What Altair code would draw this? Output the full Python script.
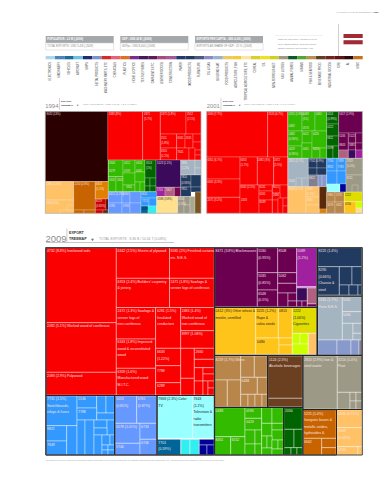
import altair as alt
import pandas as pd

# ---------- palette ----------
RED="#fb0000"; MAR="#6b0050"; DKP="#3c0a5a"; MAG="#a020a0"; PNK="#b06080"
GRN="#33bb00"; DGR="#006400"; BLU="#3399ff"; PER="#6699ff"; CYP="#99ffff"; CYN="#33eeee"
TEA="#006699"; NVB="#000099"; NAV="#203a60"; GRB="#a4b4c0"; LAV="#8899cc"; GRY="#808090"
POR="#ffc266"; DOR="#c86400"; ORG="#e08000"; YOR="#ffc41a"; YEL="#e0dc00"; CHA="#ccff00"
PYE="#ffe08c"; KHA="#9c9a86"; BRN="#b8864a"; DBR="#6a4020"; SBR="#5a2a0a"; BLK="#2a0000"; DRD="#cc0000"
FONT="Liberation Sans"

# ---------- header ----------
strip_colors=["#a8d8ea","#4a86b8","#1e6a9e","#6fc3d8","#1c2a78","#7a93c8","#d42a2a","#e8607a","#e07020",
 "#7b2d8b","#431a5e","#5e1a5a","#a84a7a","#a05a98","#1f3a6e","#203a60","#4a5a80","#8a8ac8","#9ab0d0",
 "#f0c860","#f5c840","#fbe5a0","#d8d030","#f0e020","#d0d020","#a09a80","#0a5a30","#50a830","#b89050",
 "#604020","#7a2020","#601515","#2a0a0a","#c87020"]
strip_labels=["ELECTRONICS","MACHINERY","VEHICLES","AIRCRAFT","SHIPS","METAL PRODUCTS","MACHINERY PARTS, ETC","CHEMICALS","PLASTICS",
 "HOME & OFFICE","TEXTILE FIBRES","GARMENTS ETC.","LEATHER GOODS","CONSTRUCTION","PAPER","WOOD PRODUCTS","FURNITURE","OIL & GAS",
 "BUILDING MAT.","FOOD PRODUCTS","AGRICULTURE, FISH","TROPICAL AGRICULTURE, ETC","CEREAL","OIL","NON-FERROUS MET.","MILK & EGGS","ANIMAL FIBRES",
 "MINING","FISH & SEAFOOD","BEVERAGE PROD.","INDUSTRIAL GOODS","ORE","AL","MISC"]
stats=[(45.7,113.7,"POPULATION : 2.3 M | (2009)","TOTAL EXPORTS : USD 5.4 B | (2009)"),
       (120.3,188.3,"GDP : USD 26 B | (2009)","GDPpc : USD 8,000 | (2009)"),
       (195,263,"EXPORTS PER CAPITA : USD 4,000 | (2009)","EXPORTS AS SHARE OF GDP : 25 % | (2009)")]
note_lines=["Data are from 2009. Member of euro","area / Baltic States, Regional Group:","Eastern Europe and Central Asia"]

# ---------- treemap cells: (left, top, right, bottom, colour) ----------
tm1994=[(45.3,111.5,108,181.5,BLK),
 (45.3,181.5,73.7,200,POR),(45.3,200,73.7,213.3,POR),(60,210,73.7,213.3,POR),(67,205,73.7,210,POR),
 (73.7,181.5,95.3,210,DOR),(73.7,210,84,213.3,DOR),(84,210,95.3,213.3,DOR),
 (95.3,181.5,108.3,199,ORG),(95.3,199,106,210,DRD),(106,199,108.3,210,"#4a0000"),(95.3,210,103,213.3,DRD),(103,210,108.3,213.3,SBR),
 (107.7,111.5,142.7,160,RED),(142.7,111.5,160.3,160,RED),(160.3,111.5,186,134,RED),(186,111.5,201,134,RED),
 (160.3,134,176.7,148,RED),(160.3,148,176.7,160,RED),(176.7,134,185,148,RED),(185,134,193,148,RED),(193,134,201,142,RED),(193,142,201,150,RED),
 (176.7,148,189,160,RED),(189,148,195,160,RED),(195,150,201,155,RED),(195,155,201,160,RED),
 (108.3,160,123,176.7,GRN),(108.3,176.7,116,191.7,GRN),(116,176.7,123,191.7,GRN),(123,160,135,173,GRN),(123,173,135,185,GRN),(123,185,135,191.7,GRN),
 (135,160,145,172,GRN),(135,172,145,182,GRN),(135,182,140,191.7,GRN),(140,182,145,191.7,GRN),
 (145,160,156,178,DGR),(145,178,150,186,DGR),(150,178,156,186,DGR),(145,186,150,191.7,DGR),(150,186,156,191.7,DGR),
 (156,160,180.7,187.3,DKP),(156,187.3,165,196.5,MAG),(165,187.3,174.3,196.5,PNK),(174.3,187.3,180.7,196.5,"#7a0a50"),
 (180.7,160,195,175,GRB),(195,160,201,168,GRB),(195,168,201,175,GRB),(180.7,175,191,187,NAV),(191,175,201,187,NAV),(180.7,187,191,196.5,NAV),(191,187,201,192,NAV),
 (108.3,191.7,122,203,PER),(122,191.7,130,203,PER),(108.3,203,122,213.3,PER),(122,203,130,213.3,PER),(130,191.7,141,203,PER),(130,203,141,213.3,PER),
 (141,191.7,156.7,198,BLU),(141,198,149,206,BLU),(149,198,156.7,206,BLU),(141,206,148,213.3,TEA),(148,206,156.7,213.3,CYN),
 (156.7,196.5,177.7,213.3,PYE),(177.7,196.5,184,213.3,KHA),(184,196.5,190,205,KHA),(184,205,190,213.3,KHA),(190,196.5,195,213.3,"#a8a890"),(195,192,201,213.3,"#7a5520")]

tm2001=[(206.7,111.5,267.7,157,RED),(267.7,111.5,287.7,157,RED),(206.7,157,240,179,RED),(206.7,179,240,197.3,RED),(206.7,197.3,240,213.3,RED),
 (240,157,257.3,185,RED),(257.3,157,273.7,185,RED),(273.7,157,287.7,185,RED),
 (240,185,259,213.3,RED),(259,185,272.3,191,RED),(259,191,272.3,200,RED),(259,200,272.3,213.3,RED),(272.3,185,280,193,RED),(280,185,287.7,198,RED),(272.3,193,280,200,RED),
 (272.3,200,278,213.3,RED),(278,198,283,213.3,RED),(283,198,287.7,206,RED),(283,206,287.7,213.3,RED),
 (288,111.5,302,131,GRN),(302,111.5,315,131,GRN),(315,111.5,326.7,131,GRN),(302,131,315,143,GRN),(288,131,302,146,GRN),(288,146,302,158.3,GRN),(302,143,312,158.3,GRN),(312,131,326.7,148,GRN),(312,148,320,158.3,GRN),(320,148,326.7,158.3,GRN),
 (326.7,111.5,338.7,124,DGR),(326.7,124,338.7,136,DGR),(326.7,136,338.7,146,DGR),(326.7,146,333,158.3,DGR),(333,146,338.7,158.3,DGR),
 (338.7,111.5,362.3,133,MAR),(338.7,133,348.3,150,MAR),(348.3,133,355.7,143,MAR),(355.7,133,362.3,143,MAR),(348.3,143,355.7,150,MAR),(355.7,143,362.3,150,MAR),
 (338.7,150,348.3,158.3,PNK),(348.3,150,355.7,158.3,DKP),(355.7,150,362.3,158.3,MAG),
 (288,158.3,308.3,186.7,GRB),(296,178,302,186.7,GRB),(302,178,308.3,186.7,GRB),
 (308.3,158.3,317,168,NAV),(317,158.3,326.7,168,NAV),(308.3,168,317,175,NAV),(317,168,326.7,175,NAV),(308.3,175,318,186.7,GRY),(318,175,322,186.7,LAV),(322,175,326.7,186.7,LAV),
 (326.7,158.3,337,171,BLU),(337,158.3,346,171,BLU),(326.7,171,337,184,BLU),(337,171,346,184,BLU),(326.7,184,340,192,CYP),(340,184,346,192,NVB),
 (346,158.3,362.3,175,KHA),(346,175,362.3,192,KHA),(352,185,358,192,KHA),
 (288,186.7,306,213.3,POR),(306,186.7,319.3,197,POR),(306,197,319.3,205,POR),(306,205,319.3,213.3,POR),
 (319.3,186.7,326.7,209,SBR),(319.3,209,326.7,213.3,ORG),
 (326.7,192,335,202,BRN),(335,192,344.3,202,BRN),(326.7,202,335,213.3,BRN),(335,202,344.3,213.3,BRN),
 (344.3,192,362.3,201.7,YEL),(344.3,201.7,356,213.3,YOR),(356,201.7,362.3,208,CHA),(356,208,362.3,213.3,PYE)]

tm2009=[(46,247.7,116.3,322.7,RED),(46,322.7,116.3,372.3,RED),(46,372.3,116.3,395,RED),
 (116.3,247.7,169.5,278.3,RED),(116.3,278.3,169.5,307.5,RED),(116.3,307.5,155.6,339,RED),(116.3,339,155.6,368.3,RED),(116.3,368.3,155.6,395,RED),
 (169.5,247.7,214,278.3,RED),(169.5,278.3,214,307.5,RED),(155.6,307.5,180.7,348.3,RED),(155.6,348.3,180.7,365.7,RED),(155.6,365.7,180.7,382.7,RED),(155.6,382.7,180.7,395,RED),
 (180.7,307.5,214,330.7,RED),(180.7,330.7,214,348.3,RED),(180.7,348.3,194.3,378.3,RED),(194.3,348.3,214,359.3,RED),(194.3,359.3,214,367.7,RED),
 (180.7,378.3,194.3,395,RED),(194.3,367.7,203,381,RED),(203,367.7,214,374,RED),(203,374,214,381,RED),(194.3,381,203,395,RED),(203,381,208,395,RED),(208,381,214,388,RED),(208,388,214,395,RED),
 (214.7,247.7,257.3,306.7,MAR),(257.3,247.7,277.7,272.7,MAR),(277.7,247.7,296.7,272.7,MAR),(257.3,272.7,277.7,290,MAR),(257.3,290,277.7,306.7,MAR),
 (277.7,272.7,296.7,283.3,MAR),(277.7,283.3,296.7,293,MAR),(277.7,293,288,306.7,MAR),(288,293,296.7,301,MAR),(288,301,296.7,306.7,MAR),
 (296.7,247.7,316.7,286.7,MAG),(296.7,286.7,316.7,288,"#c060c0"),(296.7,288,307.3,301,DKP),(296.7,301,302,306.7,MAR),(302,301,307.3,306.7,MAR),(307.3,288,316.7,304,PNK),(307.3,304,316.7,306.7,MAR),
 (317.7,247.7,361.7,266.7,NAV),(317.7,266.7,339.3,295,NAV),(339.3,266.7,352,285,NAV),(352,266.7,361.7,285,NAV),(339.3,285,349,295,NAV),(349,285,358,295,NAV),(358,285,361.7,295,NAV),
 (317.7,296.7,342.3,340,GRB),(342.3,296.7,361.7,311.7,GRB),(342.3,311.7,361.7,323.3,GRB),(342.3,323.3,353,340,GRB),(353,323.3,361.7,333.3,GRB),(353,333.3,361.7,340,GRB),
 (317.7,340,337,355,LAV),(337,340,351,355,LAV),(351,340,359,355,LAV),(359,340,361.7,355,GRY),
 (214.7,307.7,255.7,354.3,YOR),(255.7,307.7,278.3,338,YOR),(278.3,307.7,292.3,338,YOR),(255.7,338,279,354.3,YOR),(279,338,292.3,345,YOR),(279,345,292.3,354.3,YOR),
 (292.3,307.7,316.7,333.3,YEL),(292.3,333.3,300,344,CHA),(300,333.3,308.3,344,CHA),(292.3,344,308.3,354.3,CHA),(308.3,333.3,316.7,354.3,POR),
 (214.7,356,240.7,380,BRN),(214.7,380,227.3,406.7,BRN),(227.3,380,240.7,406.7,BRN),(240.7,356,254.3,377.3,BRN),(254.3,356,267.3,377.3,BRN),(240.7,377.3,257.3,394.3,BRN),(257.3,377.3,267.3,394.3,BRN),
 (240.7,394.3,248,406.7,BRN),(248,394.3,255,406.7,BRN),(255,394.3,262,406.7,BRN),(262,394.3,267.3,406.7,BRN),
 (268,356,302.3,398.3,DBR),(268,398.3,302.3,406.7,DBR),
 (303.3,356,337.3,409,KHA),(337.3,356,362,392.3,KHA),(337.3,392.3,350,409,KHA),(350,392.3,356,401,KHA),(356,392.3,362,401,KHA),(350,401,356,409,KHA),(356,401,362,409,KHA),
 (214.7,407.7,245,436.7,GRN),(214.7,436.7,230.7,455,GRN),(230.7,436.7,245,455,GRN),(245,407.7,261.7,418.3,GRN),(245,418.3,261.7,430,GRN),(261.7,407.7,272,423.3,GRN),(272,407.7,283.3,423.3,GRN),
 (245,430,255,444,GRN),(245,444,255,455,GRN),(255,430,261.7,444,GRN),(255,444,261.7,455,GRN),(261.7,423.3,272,436,GRN),(272,423.3,283.3,430,GRN),(272,430,283.3,440,GRN),(261.7,436,267,448,GRN),(267,436,272,448,GRN),
 (261.7,448,272,455,GRN),(272,440,278,449,GRN),(278,440,283.3,449,GRN),(272,449,283.3,455,GRN),
 (284,407.7,302.3,429.3,DGR),(284,429.3,294,447.7,DGR),(294,429.3,302.3,447.7,DGR),(284,447.7,291,455,DGR),(291,447.7,297,455,DGR),(297,447.7,302.3,455,DGR),
 (303.3,410,336,438.3,DOR),(303.3,438.3,321.7,455,DOR),(321.7,438.3,336,447.7,DOR),(321.7,447.7,336,455,DOR),
 (337,410,362,427.7,POR),(337,427.7,362,446.7,POR),(337,446.7,358,455,POR),(358,446.7,362,455,POR),
 (46,396,77,425.7,BLU),(46,425.7,66.7,441,BLU),(46,441,66.7,455,BLU),(66.7,425.7,77,455,BLU),(77,396,96.7,408,BLU),(96.7,396,106,413,BLU),(106,396,114.3,413,BLU),(77,408,96.7,420,BLU),(96.7,413,114.3,420,BLU),
 (77,420,85,455,BLU),(85,420,94,455,BLU),(94,420,107,428,BLU),(107,420,114.3,435,BLU),(94,428,107,435,BLU),(94,435,102,455,BLU),(102,435,110,445,BLU),(110,435,114.3,445,BLU),(102,445,108,450,BLU),(108,445,114.3,450,BLU),(102,450,108,455,BLU),(108,450,114.3,455,BLU),
 (115,396,136.7,423.3,PER),(136.7,396,156.7,423.3,PER),(115,423.3,140,443.3,PER),(140,423.3,156.7,439.3,PER),(115,443.3,140,455,PER),(140,439.3,156.7,455,PER),
 (157.3,396,192.7,438.3,CYP),(192.7,396,214,438.3,CYP),(157.3,439.3,180.7,455,TEA),(181,439.3,190,455,CYN),(190,439.3,199.3,455,CYN),(199.3,439.3,214,445,NVB),(199.3,445,207,455,NVB),(207,445,214,455,NVB)]

# block outlines of the 2009 treemap: (left, top, right, bottom)
blocks2009=[(46,247.7,214.3,395.5),(214.7,247.7,316.9,307.2),(214.7,307.5,316.9,355.2),(214.7,355.5,267.6,407.2),(267.8,355.5,302.8,407.2),
 (303,355.5,362,409.5),(214.7,407.5,283.6,455),(283.8,407.5,302.8,455),(303,409.8,336.5,455),(46,395.5,114.6,455),(114.8,395.5,157,455),(157,395.5,214.3,455),(317.5,247.7,362,296),(317.5,296.2,362,355.2)]
frames=[(45.3,111.5,201,213.3),(206.7,111.5,362.5,213.3),(45.7,247.5,362.3,455)]

# ---------- treemap labels: (x, y, text, colour) ----------
W="#ffe8e8"; K="#102020"
labels_small=[(46.5,113.5,"8432 (13%)",W),(108.7,113.5,"2482 (8%)",W),(144,113.5,"2471",W),(144,118.5,"(5.7%)",W),(161,113.5,"2472 (1.8%)",W),(187,113.5,"2512",W),(187,118.5,"(2.1%)",W),
 (161,137,"2511",W),(161,142,"(1.8%)",W),(177.5,137,"6341",W),(185.5,137,"2631",W),(161,150,"6310",W),(161,155,"(1.2%)",W),(177.5,151,"7641",W),
 (109,162.5,"0344",W),(109,170,"0579",W),(109,179,"0342",W),(117,179,"0342",W),(124,162.5,"0412",W),(124,170,"0709",W),(136,162.5,"0424",W),(136,170,"0591",W),(146,162.5,"0514",W),(146,167,"(1%)",W),(126,186,"0341",W),
 (157,162.5,"5123 (1.1%)",W),(181,162.5,"2890",W),(181,167,"(1.2%)",W),(181,176.5,"7810",W),(181,182,"(0.94%)",W),(181,188,"7852",W),(157,189,"5741",W),(166,189,"5847",W),
 (109,193,"6415 (2.2%)",W),(122.5,193,"6584",W),(141.5,193,"6611",W),(109,205,"6785",W),(123,205,"6783",W),(142,200,"7721",W),(142,208,"6579",K),
 (157.5,198,"0586 (3.8%)",K),(178,198,"3354",W),(178,203,"(1.8%)",W),
 (46.5,183,"2882 (1.4%)",W),(46.5,202,"6584 (2%)",W),(74.5,183,"2250 (2.8%)",W),(96,183,"6823",W),(96,188,"(1.2%)",W),(96,200.5,"8219",W),(96,205.5,"(0.85%)",W),
 (207.5,113.5,"2460 (7.7%)",W),(268.5,113.5,"2520 (4.7%)",W),(207.5,159,"6351 (6.7%)",W),(240.5,159,"6353",W),(240.5,164,"(1.7%)",W),(257.8,159,"2482 (3%)",W),(274,159,"2472",W),(274,164,"(2.5%)",W),
 (207.5,181,"6341 (3.3%)",W),(207.5,199,"2471 (3.2%)",W),(240.5,186.5,"6342 (2.5%)",W),(259.5,186.5,"6241",W),(273,186.5,"8021",W),(241,199,"2433",W),(259.5,193,"6261",W),(273,194,"2480",W),(259.5,201,"8039",W),
 (288.7,113,"0251 (1.8%)",W),(302.7,113,"0483",W),(302.7,118,"(1%)",W),(315.7,113,"0461",W),(288.7,125,"0482",W),(302.7,127,"0574",W),(288.7,133,"0482",W),(288.7,138,"(0.94%)",W),(302.7,133,"0412",W),(312.7,133,"0426",W),(288.7,148,"0429",W),(288.7,153,"(0.96%)",W),(302.7,148,"0431",W),(313,148,"0424",W),
 (327.3,113,"0114",W),(327.3,118,"(0.99%)",W),(327.3,126,"0222",W),(327.3,137,"0611",W),(327.3,147,"0599",W),
 (339.3,113,"5417 (2.9%)",W),(339.3,135,"5246",W),(349,135,"5122",W),(339.3,144,"8843",W),(349,144,"5881",W),
 (288.7,160,"2851 (2.7%)",W),(309,160,"7742 (0.9%)",W),(288.7,180,"3344",W),(309,177,"6822",W),(327.3,160,"7764",W),(337.5,160,"7499",W),(327.3,166,"8922",W),(337.5,166,"7783",W),(346.7,160,"2929",W),(346.7,165,"(1.4%)",W),(346.7,177,"8211",W),
 (288.7,188,"8046 (2.7%)",W),(306.7,188,"2368",W),(306.7,193,"(1.1%)",W),(306.7,199,"6584",W),(327.3,194,"2960",W),(336,194,"2731",W),(327.3,204,"3076",W),(336,204,"0452",W),(345,194,"1222",K),(345,203,"0740",K)]

labels_big=[(47,248.7,"4732 (8.8%) Iron/wood rods",W),(47,324,"2482 (5.1%) Worked wood of coniferous",W),(47,373.5,"2483 (2.9%) Pulpwood",W),
 (117.5,249,"6342 (2.5%) Sheets of plywood",W),(117.5,279.5,"6353 (2.4%) Builders' carpentry",W),(117.5,286,"& joinery",W),
 (170.5,249,"6585 (2%) Finished curtains",W),(170.5,256,"etc. N.E.S.",W),(170.5,279.5,"2471 (1.8%) Sawlogs &",W),(170.5,286,"veneer logs of coniferous",W),
 (117.5,309,"2472 (1.3%) Sawlogs &",W),(117.5,315.5,"veneer logs of",W),(117.5,322,"non-coniferous",W),
 (117.5,340,"6343 (1.8%) Improved",W),(117.5,346.5,"wood & reconstituted",W),(117.5,353,"wood",W),(117.5,369.5,"6359 (1.6%)",W),(117.5,376,"Manufactured wood",W),(117.5,382.5,"M.I.T.C.",W),
 (157,309,"6281 (1.5%)",W),(157,315.5,"Insulated",W),(157,322,"conductors",W),(181.7,309,"2483 (1.4%)",W),(181.7,315.5,"Worked wood of",W),(181.7,322,"non-coniferous",W),(181.7,332,"8997 (1.08%)",W),
 (157,350,"6633",W),(157,356.5,"(1.22%)",W),(157,369,"7788",W),(157,384,"6289",W),(195.5,350,"2660",W),
 (215.5,248.7,"8471 (3.8%) Blockmasses",W),(258.2,249,"5530",W),(258.2,255.5,"(0.95%)",W),(278.5,249,"8508",W),(258.2,274,"5035",W),(258.2,280.5,"(0.85%)",W),(278.5,274,"5062",W),(258.2,291.5,"6548",W),(258.2,298,"(0.5%)",W),(297.5,249,"5089",W),(297.5,255.5,"(1.2%)",W),
 (318.5,249,"8225 (1.4%)",W),(318.5,268,"8290",W),(318.5,274.5,"(0.66%)",W),(318.5,281,"Chassis &",W),(318.5,287.5,"steel",W),(318.5,298,"9281 (1.7%)",W),(318.5,304.5,"Parts N.E.S.",W),(343,298,"5081",W),(343,313,"5084",W),
 (215.5,309,"0412 (3%) Other wheat &",K),(215.5,315.5,"meslin, unmilled",K),(256.5,309,"3225 (1.2%)",K),(256.5,315.5,"Rape &",K),(256.5,322,"colza seeds",K),(279,309,"0813",K),(293,309,"1222",K),(293,315.5,"(1.06%)",K),(293,322,"Cigarettes",K),(257,339.5,"0480",K),
 (215.5,357.5,"8219 (1.7%) Wires",W),(241.5,379,"6484",W),(269,357.5,"1124 (2.3%)",W),(269,364,"Alcoholic beverages",W),
 (304,357.5,"2820 (2.9%) Iron &",W),(304,364,"steel waste",W),(338,357.5,"3214 (1.4%)",W),(338,364,"Peat",W),
 (215.5,409,"0483",W),(215.5,438,"8451",W),(231.5,438,"6552",W),(246,409,"0594",W),(246,420,"0423",W),(285,409,"2050",W),
 (304,411.5,"5225 (1.4%)",W),(304,418,"Inorganic bases &",W),(304,424.5,"metallic oxides,",W),(304,431,"hydroxides &",W),(304,439.5,"6662",W),(338,411.5,"0346 (0.72%)",W),(338,429,"3369",W),(338,435.5,"(0.43%)",W),(338,448,"6734",W),
 (47,397,"7731 (1.5%)",W),(47,403.5,"Switchboards,",W),(47,410,"relays & fuses",W),(47,427,"8821",W),(47,443,"7649",W),(78,397,"2536",W),(78,409.5,"7788",W),
 (116,397,"5053",W),(116,403.5,"(0.85%)",W),(137.7,397,"6761",W),(137.7,403.5,"(0.87%)",W),(116,424.5,"6578 (1.01%)",W),(141,424.5,"6733",W),(116,445,"5746",W),(141,441,"6746",W),
 (158.3,397,"7868 (2.3%) Color",K),(158.3,403.5,"TV",K),(193.5,397,"7643",K),(193.5,403.5,"(1.2%)",K),(193.5,410,"Television &",K),(193.5,416.5,"radio",K),(193.5,423,"transmitters",K),(158.3,440.5,"7701",W),(158.3,447,"(0.59%)",W)]

page_tag="MAPPING PATHS TO PROSPERITY"
page_no="| 301"
source_note="Treemaps refer to 2009 export data. Percentages indicate percentage of total exports. Products use the Standard International Trade Classification; the Atlas groups them into communities, color-coded in the strip above."
titles=[(45.3,108,"1994",5.9,59,100,110,61,77,83,"TOTAL EXPORTS : USD 1.06 B / 4.2 T (0.025%)",2.5,101,105,104.5),
        (206.7,108,"2001",5.9,220.8,100,110,223,239,244,"TOTAL EXPORTS : USD 1.7 B / 6.1 T (0.03%)",2.5,101,105,104.5)]

# ---------- scales: one shared canvas measured as on the page ----------
sx=alt.Scale(domain=[8,379],nice=False,zero=False)
sy=alt.Scale(domain=[472,8],nice=False,zero=False)
X=lambda f:alt.X(f,type="quantitative",scale=sx,axis=None)
Y=lambda f:alt.Y(f,type="quantitative",scale=sy,axis=None)

def rects(rows,stroke=None,sw=0,sop=1,fill=True):
    df=pd.DataFrame(rows,columns=["a","b","c","d","col"][:len(rows[0])])
    kw=dict(strokeWidth=sw,strokeOpacity=sop)
    if stroke: kw["stroke"]=stroke
    if not fill:
        kw["fillOpacity"]=0; kw["fill"]="#ffffff"
    enc=dict(x=X("a"),x2="c",y=Y("b"),y2="d")
    if fill: enc["fill"]=alt.Fill("col:N",scale=None)
    return alt.Chart(df).mark_rect(**kw).encode(**enc)

def texts(rows,size,weight="normal",align="left",baseline="top",angle=0,opacity=1):
    df=pd.DataFrame(rows,columns=["x","y","t","col"])
    kw=dict(fontSize=size,font=FONT,fontWeight=weight,align=align,baseline=baseline,opacity=opacity)
    if angle: kw["angle"]=angle
    return alt.Chart(df).mark_text(**kw).encode(x=X("x"),y=Y("y"),text="t:N",color=alt.Color("col:N",scale=None))

def tri(x,y,size):
    return alt.Chart(pd.DataFrame({"x":[x],"y":[y]})).mark_point(shape="triangle-down",size=size,filled=True,color="#777777",opacity=1).encode(x=X("x"),y=Y("y"))

layers=[]
# stat boxes
for l,r,a,b in stats:
    layers.append(rects([(l,36,r,43,"#a5a8ab")]))
    layers.append(rects([(l,43,r,50,"#ffffff")],stroke="#c8c8c8",sw=0.5))
    layers.append(texts([(l+1.5,39.6,a,"#ffffff")],2.65,baseline="middle",weight="bold"))
    layers.append(texts([(l+1.5,46.6,b,"#8a8a8a")],2.65,baseline="middle"))
# note
layers.append(rects([(275,35,323,35.3,"#c8c8c8")]))
layers.append(texts([(278,39+i*4.7,t,"#8a8a8a") for i,t in enumerate(note_lines)],2.4,baseline="middle"))
# flag & divider
layers.append(rects([(338.2,24,338.8,56,"#b0b0b0")]))
layers.append(rects([(343.5,34,362.7,38.1,"#9e2b35"),(343.5,38.1,362.7,40.2,"#ffffff"),(343.5,40.2,362.7,44.3,"#9e2b35")]))
# colour strip and its rotated labels
w=(362.7-45.7)/len(strip_colors)
layers.append(rects([(45.7+i*w,56,45.7+(i+1)*w,59.3,c) for i,c in enumerate(strip_colors)]))
layers.append(texts([(45.7+(i+.5)*w,62,t,"#444444") for i,t in enumerate(strip_labels)],2.6,align="right",baseline="middle",angle=270))
# page tag
layers.append(texts([(372.5,12,page_tag,"#9a9a9a")],2.2,align="right",baseline="middle"))
layers.append(texts([(373,12,page_no,"#333333")],2.4,weight="bold",baseline="middle"))
# small titles
for x,y,yr,fs,dv,d0,d1,ex,trx,tx,tt,ts,e1,e2,tyy in titles:
    layers.append(texts([(x,y,yr,"#8c8c8c")],fs,baseline="alphabetic"))
    layers.append(rects([(dv,d0-2,dv+0.4,d1,"#9a9a9a")]))
    layers.append(texts([(ex,e1,"EXPORT","#333333"),(ex,e2,"TREEMAP","#333333")],2.5,weight="bold",baseline="middle"))
    layers.append(tri(trx+.7,tyy+1,4))
    layers.append(texts([(tx,tyy,tt,"#9a9a9a")],ts,baseline="middle"))
# 2009 title
layers.append(texts([(45.5,241.5,"2009","#8c8c8c")],9.5,baseline="alphabetic"))
layers.append(rects([(66.7,228.5,67.2,243,"#9a9a9a")]))
layers.append(texts([(69,233,"EXPORT","#333333"),(69,238.5,"TREEMAP","#333333")],3.6,weight="bold",baseline="middle"))
layers.append(tri(92.5,240,9))
layers.append(texts([(99,238.5,"TOTAL EXPORTS : 8.36 B / 10.56 T (0.08%)","#9a9a9a")],3.4,baseline="middle"))
layers.append(rects([(46,242.3,174,242.9,"#b5b5b5")]))
# treemaps
layers.append(rects(tm1994,stroke="#ffffff",sw=0.5,sop=0.45))
layers.append(rects(tm2001,stroke="#ffffff",sw=0.5,sop=0.45))
layers.append(rects(tm2009,stroke="#ffffff",sw=0.7,sop=0.55))
layers.append(rects(blocks2009,stroke="#232323",sw=1,fill=False))
layers.append(rects(frames[:2],stroke="#999999",sw=0.6,fill=False))
layers.append(rects(frames[2:],stroke="#444444",sw=1,fill=False))
layers.append(texts(labels_small,2.7,opacity=0.9))
layers.append(texts(labels_big,3.5,opacity=0.95))
layers.append(texts([(46,459.5,source_note,"#9a9a9a")],1.85,baseline="middle"))

chart=alt.layer(*layers).properties(width=371,height=464,padding=0,autosize=alt.AutoSizeParams(type="none"),background="#ffffff").configure_view(stroke=None)
chart.save("out.html",embed_options={"renderer":"svg","actions":False})
